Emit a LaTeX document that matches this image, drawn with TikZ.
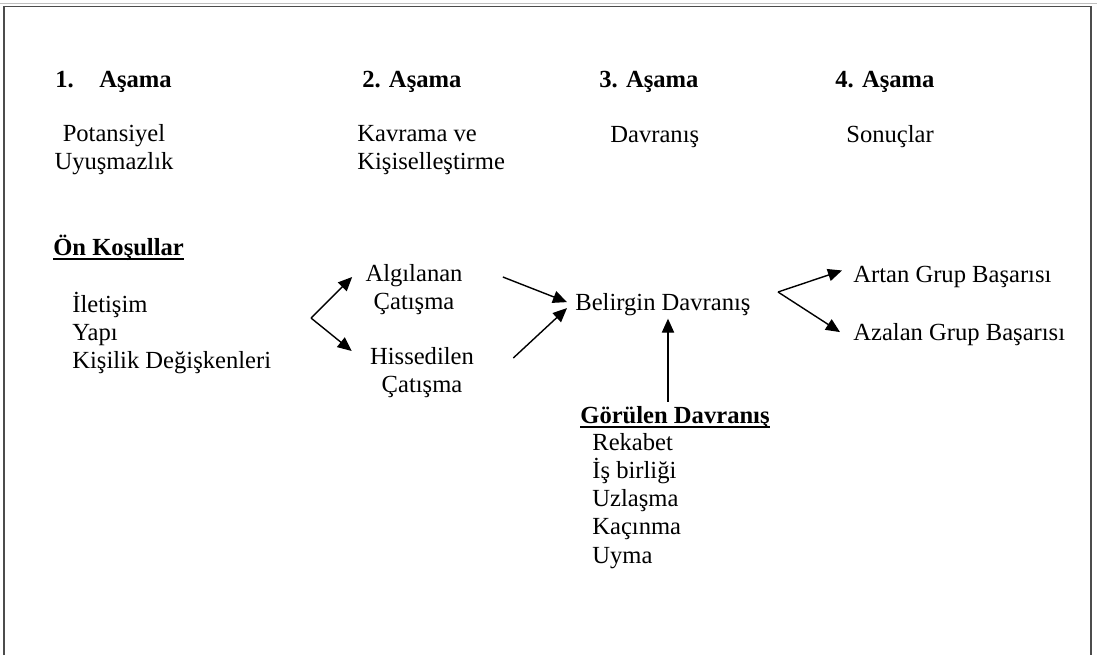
\documentclass[tikz,border=0pt]{standalone}
\usepackage{fontspec}
\setmainfont{Liberation Serif}
\usetikzlibrary{arrows.meta,positioning,calc}
\newcommand{\thickul}[1]{\setbox0\hbox{#1}\rlap{\raisebox{-2.8pt}{\rule{\wd0}{1.2pt}}}\box0}

\begin{document}
\begin{tikzpicture}[x=0.02cm,y=-0.02cm,
    every node/.style={font=\fontsize{14}{16}\selectfont, inner sep=0pt},
    stage/.style={anchor=base west, font=\fontsize{14}{16}\selectfont\bfseries},
    title/.style={anchor=base west, font=\fontsize{14}{16}\selectfont\bfseries},
    txt/.style={anchor=base west},
    block/.style={align=center},
    list/.style={align=left, anchor=west},
    arr/.style={-{Triangle[length=8pt,width=7pt]}, line width=0.8pt}]
  \useasboundingbox (0,0) rectangle (1097,655);

  % frame
  \draw[black!25, line width=0.6pt] (0,3.5) -- (1097,3.5);
  \draw[black!70, line width=1.1pt] (4,655) -- (4,6.5) -- (1091,6.5) -- (1091,655);

  % stages
  \node[stage] (h1) at (55,88) {1.\hspace{14.5pt}Aşama};
  \node[stage] (h2) at (362,88) {2. Aşama};
  \node[stage] (h3) at (599,88) {3. Aşama};
  \node[stage] (h4) at (835,88) {4. Aşama};

  \node[block] (pot) at (114,150) {Potansiyel\\Uyuşmazlık};
  \node[list] (kav) at (357,150) {Kavrama ve\\Kişiselleştirme};
  \node[txt] (dav) at (610,143) {Davranış};
  \node[txt] (son) at (846,143) {Sonuçlar};

  % stage 1
  \node[title] (onk) at (53,255) {\thickul{Ön Koşullar}};
  \node[list] (onl) at (72,333) {İletişim\\Yapı\\Kişilik Değişkenleri};

  % stage 2
  \node[block] (alg) at (414,290) {Algılanan\\Çatışma};
  \node[block] (his) at (422,373) {Hissedilen\\Çatışma};

  % stage 3
  \node[txt] (bel) at (575,310) {Belirgin Davranış};
  \node[title] (gor) at (580,423) {\thickul{Görülen Davranış}};
  \node[list] (gorl) at (592,501) {Rekabet\\İş birliği\\Uzlaşma\\Kaçınma\\Uyma};

  % stage 4
  \node[txt] (art) at (853,282) {Artan Grup Başarısı};
  \node[txt] (aza) at (853,340) {Azalan Grup Başarısı};

  % arrows
  \coordinate (fork) at (311,318);
  \draw[arr] (fork) -- ($(alg.west)+(-13,-13)$);
  \draw[arr] (fork) -- ($(his.west)+(-18,-22)$);
  \draw[arr] ($(alg.east)+(40,-13)$) -- ($(bel.west)+(-8,-2)$);
  \draw[arr] ($(his.east)+(39,-15)$) -- ($(bel.west)+(-8,4)$);
  \draw[arr] ($(gor.north)+(-7,-4)$) coordinate (gup) -- ($(gup |- bel.south)+(0,3)$);
  \coordinate (join) at (778,292);
  \draw[arr] (join) -- ($(art.west)+(-11,-6)$);
  \draw[arr] (join) -- ($(aza.west)+(-13,-2)$);
\end{tikzpicture}
\end{document}
